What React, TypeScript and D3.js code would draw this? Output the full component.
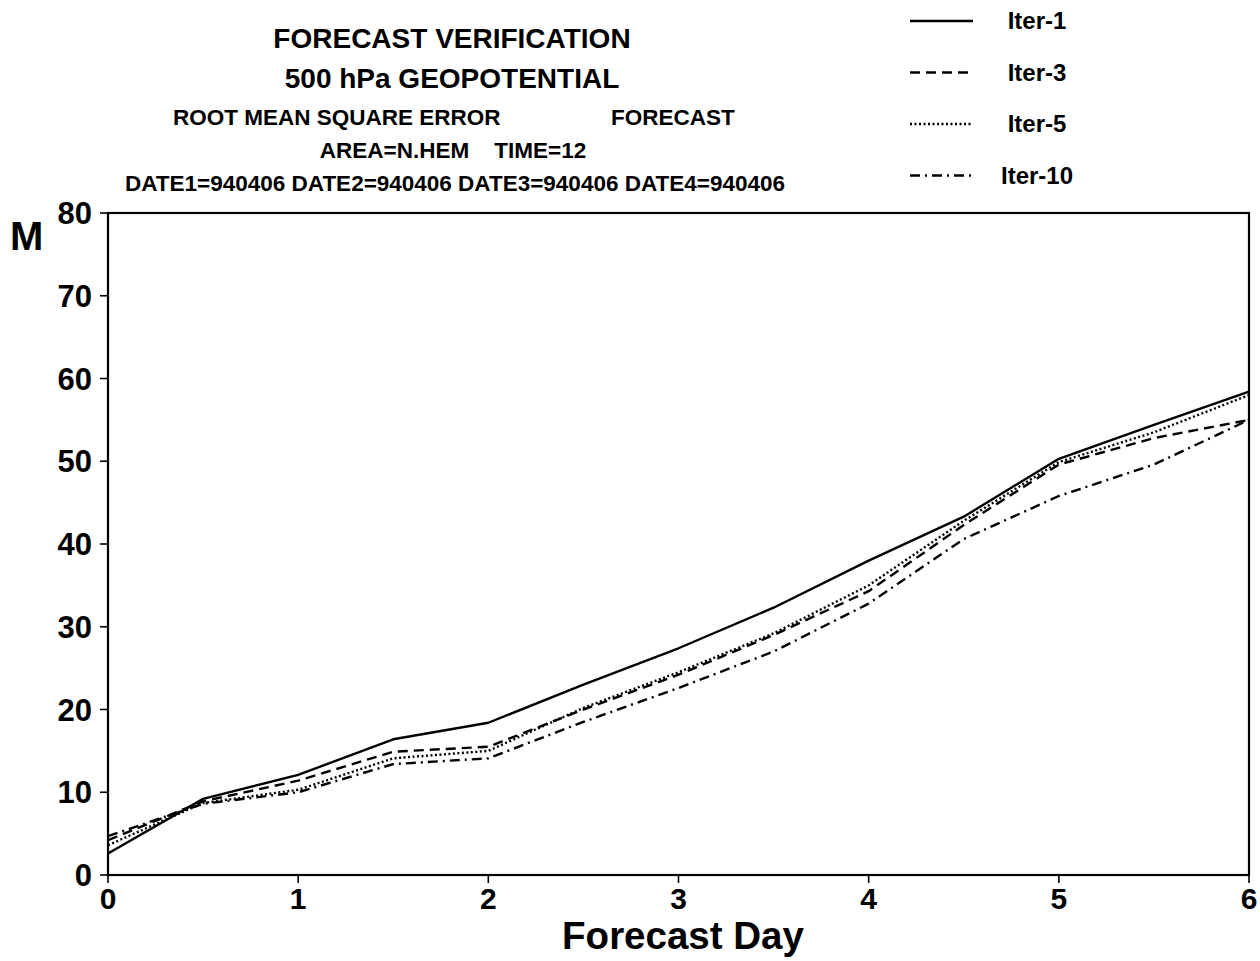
import * as d3 from 'd3';

// forecast day (every half day) and RMSE (m) per iteration
const days = [0, 0.5, 1, 1.5, 2, 2.5, 3, 3.5, 4, 4.5, 5, 5.5, 6];
const iter1 = [2.6, 9.2, 12.1, 16.4, 18.4, 23.0, 27.4, 32.3, 38.0, 43.3, 50.3, 54.4, 58.4];
const iter3 = [4.2, 8.9, 11.4, 14.9, 15.5, 20.0, 24.2, 29.0, 34.3, 42.3, 49.6, 52.8, 55.0];
const iter5 = [3.6, 8.7, 10.3, 14.1, 15.0, 20.2, 24.5, 29.2, 35.0, 42.8, 49.9, 53.5, 58.0];
const iter10 = [4.7, 8.6, 10.0, 13.4, 14.1, 18.5, 22.6, 27.0, 32.8, 40.6, 45.8, 49.6, 55.0];

const seriesNames = ['Iter-1', 'Iter-3', 'Iter-5', 'Iter-10'];
const seriesValues = [iter1, iter3, iter5, iter10];
const dashes = [undefined, '10 6', '2 2.5', '10 5 2 5'];

const xTicks = [0, 1, 2, 3, 4, 5, 6];
const yTicks = [0, 10, 20, 30, 40, 50, 60, 70, 80];

const titleLines = [
  'FORECAST VERIFICATION',
  '500 hPa GEOPOTENTIAL',
];

const FONT = '"Liberation Sans", Arial, sans-serif';

export default function App() {
  const W = 1260;
  const H = 961;
  const plot = { left: 108, right: 1249, top: 213, bottom: 875 };

  const x = d3.scaleLinear().domain([0, 6]).range([plot.left, plot.right]);
  const y = d3.scaleLinear().domain([0, 80]).range([plot.bottom, plot.top]);

  const line = d3
    .line<number>()
    .x((_, i) => x(days[i]))
    .y((v) => y(v));

  return (
    <svg
      width={W}
      height={H}
      style={{ position: 'absolute', left: 0, top: 0, background: '#fff' }}
      fontFamily={FONT}
      fontWeight="bold"
    >
      {/* titles */}
      <text x={452} y={48} fontSize={28} textAnchor="middle">{titleLines[0]}</text>
      <text x={452} y={88} fontSize={28} textAnchor="middle">{titleLines[1]}</text>
      <text x={173} y={125} fontSize={22.5}>ROOT MEAN SQUARE ERROR</text>
      <text x={611} y={125} fontSize={22.5}>FORECAST</text>
      <text x={453} y={158} fontSize={22.5} textAnchor="middle" xmlSpace="preserve">
        {'AREA=N.HEM    TIME=12'}
      </text>
      <text x={455} y={191} fontSize={22.5} textAnchor="middle">
        DATE1=940406 DATE2=940406 DATE3=940406 DATE4=940406
      </text>

      {/* legend */}
      {seriesNames.map((name, i) => {
        const ly = 21 + i * 51.5;
        return (
          <g key={name}>
            <line
              x1={910}
              x2={973}
              y1={ly}
              y2={ly}
              stroke="#000"
              strokeWidth={2.4}
              strokeDasharray={dashes[i]}
            />
            <text x={1037} y={ly} dy="0.35em" fontSize={24} textAnchor="middle">
              {name}
            </text>
          </g>
        );
      })}

      {/* frame */}
      <rect
        x={plot.left}
        y={plot.top}
        width={plot.right - plot.left}
        height={plot.bottom - plot.top}
        fill="none"
        stroke="#000"
        strokeWidth={2.2}
      />

      {/* y axis */}
      {yTicks.map((v) => (
        <g key={`y${v}`}>
          <line x1={plot.left - 8} x2={plot.left} y1={y(v)} y2={y(v)} stroke="#000" strokeWidth={1.6} />
          <text x={92} y={y(v)} dy="0.36em" fontSize={31} textAnchor="end">
            {v}
          </text>
        </g>
      ))}
      <text x={10} y={250} fontSize={40}>M</text>

      {/* x axis */}
      {xTicks.map((v) => (
        <g key={`x${v}`}>
          <line x1={x(v)} x2={x(v)} y1={plot.bottom} y2={plot.bottom + 8} stroke="#000" strokeWidth={1.6} />
          <text x={x(v)} y={909} fontSize={30} textAnchor="middle">
            {v}
          </text>
        </g>
      ))}
      <text x={683} y={949} fontSize={38.5} textAnchor="middle">Forecast Day</text>

      {/* series */}
      {seriesValues.map((vals, i) => (
        <path
          key={seriesNames[i]}
          d={line(vals) ?? undefined}
          fill="none"
          stroke="#000"
          strokeWidth={2.4}
          strokeDasharray={dashes[i]}
          strokeLinejoin="round"
        />
      ))}
    </svg>
  );
}
